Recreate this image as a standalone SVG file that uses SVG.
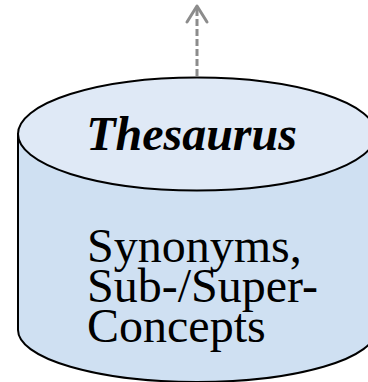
<svg xmlns="http://www.w3.org/2000/svg" width="368" height="382" viewBox="0 0 368 382">
<style>
.body{fill:#cfe0f2;stroke:#000;stroke-width:2}
.top{fill:#dfe9f6;stroke:#000;stroke-width:2}
.conn{stroke:#8c8c8c;stroke-width:3;fill:none}
.t{font-family:"Liberation Serif","Times New Roman",serif;fill:#000;font-size:48px}
</style>
<rect width="368" height="382" fill="#fff"/>
<g id="thesaurus">
<path class="body" d="M18,134 L18,330 A179,52 0 0 0 376,330 L376,134 Z"/>
<ellipse class="top" cx="197" cy="134" rx="179" ry="56.5"/>
<text class="t" x="191.5" y="150" text-anchor="middle" font-weight="bold" font-style="italic" font-size="47">Thesaurus</text>
<text class="t" x="87" y="262">Synonyms,</text>
<text class="t" x="87" y="302">Sub-/Super-</text>
<text class="t" x="87" y="342">Concepts</text>
</g>
<g id="connectors">
<line class="conn" x1="197" y1="76" x2="197" y2="8" stroke-dasharray="7,3"/>
<polyline class="conn" points="187,22 197,6 207,22" stroke-width="5" stroke-linecap="round" stroke-linejoin="round"/>
</g>
</svg>
